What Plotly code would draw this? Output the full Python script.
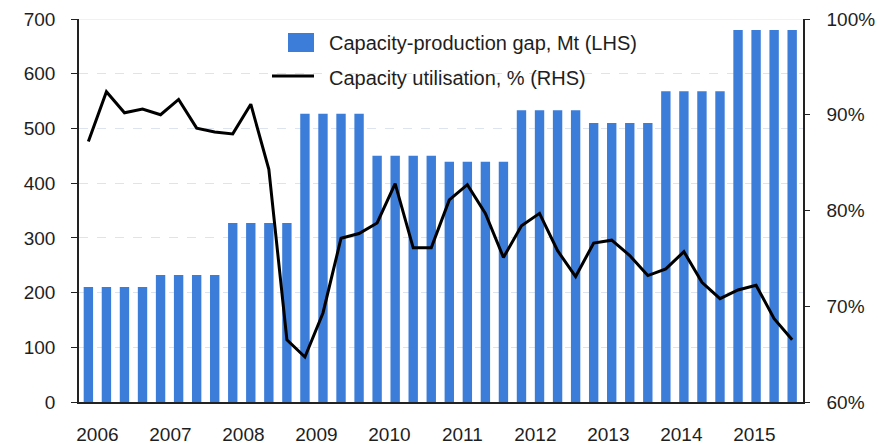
import plotly.graph_objects as go

# ---- data ----
years = ["2006", "2007", "2008", "2009", "2010", "2011", "2012", "2013", "2014", "2015"]
quarters = ["Q1", "Q2", "Q3", "Q4"]
gap_mt = [210, 210, 210, 210,
          232, 232, 232, 232,
          327, 327, 327, 327,
          527, 527, 527, 527,
          450, 450, 450, 450,
          439, 439, 439, 439,
          533, 533, 533, 533,
          510, 510, 510, 510,
          568, 568, 568, 568,
          680, 680, 680, 680]
utilisation = [87.2, 92.4, 90.2, 90.6,
               90.0, 91.6, 88.6, 88.2,
               88.0, 91.1, 84.3, 66.5,
               64.7, 69.3, 77.1, 77.6,
               78.7, 82.8, 76.1, 76.1,
               81.1, 82.7, 79.7, 75.1,
               78.4, 79.7, 75.8, 73.1,
               76.6, 76.9, 75.3, 73.2,
               73.9, 75.7, 72.5, 70.8,
               71.7, 72.2, 68.7, 66.5]
bar_name = "Capacity-production gap, Mt (LHS)"
line_name = "Capacity utilisation, % (RHS)"

BAR_COLOR = "#3c7dd9"
FONT = "Liberation Sans, Arial, sans-serif"
TXT = "#1e1e1e"

n = len(gap_mt)
x = list(range(n))
labels = [f"{y} {q}" for y in years for q in quarters]

W, H = 879, 445
L, R, T, B = 79, 803, 19, 402


def px(xp):
    return (xp - L) / (R - L)


def py(yp):
    return (B - yp) / (B - T)


fig = go.Figure()
fig.add_trace(go.Bar(x=x, y=gap_mt, name=bar_name, marker_color=BAR_COLOR,
                     marker_line_width=0, customdata=labels, showlegend=False,
                     hovertemplate="%{customdata}: %{y} Mt<extra></extra>"))
fig.add_trace(go.Scatter(x=x, y=utilisation, name=line_name, yaxis="y2", mode="lines",
                         line=dict(color="black", width=3), customdata=labels,
                         showlegend=False,
                         hovertemplate="%{customdata}: %{y}%<extra></extra>"))

tickvals = [4 * i + 0.5 + 0.045 * i for i in range(len(years))]

fig.update_layout(
    width=W, height=H,
    margin=dict(l=L, r=W - R, t=T, b=H - B, pad=0, autoexpand=False),
    paper_bgcolor="white", plot_bgcolor="white",
    font=dict(family=FONT, size=19, color=TXT),
    bargap=0.48,
    xaxis=dict(range=[-0.52, 39.6], tickvals=tickvals, ticktext=years,
               showgrid=False, zeroline=False, showline=True, linecolor="#222",
               linewidth=1.5, ticks="", ticklabelstandoff=14, automargin=False),
    yaxis=dict(range=[0, 700], dtick=100, showgrid=True, gridcolor="#dde3ef",
               griddash="dash", gridwidth=1, zeroline=False, showline=True,
               linecolor="#222", linewidth=1.5, ticks="outside", ticklen=6,
               tickcolor="#222", ticklabelstandoff=12, automargin=False),
    yaxis2=dict(range=[60, 100], dtick=10, ticksuffix="%", overlaying="y",
                side="right", showgrid=False, zeroline=False, showline=True,
                linecolor="#222", linewidth=1.5, ticks="outside", ticklen=5,
                tickcolor="#222", ticklabelstandoff=13, automargin=False),
    showlegend=False,
)

# solid top gridline
fig.add_shape(type="line", xref="paper", yref="y", x0=0, x1=1, y0=700, y1=700,
              line=dict(color="#dde3ef", width=1), layer="below")

# legend (drawn manually)
fig.add_shape(type="rect", xref="paper", yref="paper",
              x0=px(288), x1=px(314), y0=py(52), y1=py(33),
              fillcolor=BAR_COLOR, line_width=0)
fig.add_shape(type="line", xref="paper", yref="paper",
              x0=px(272), x1=px(314), y0=py(76), y1=py(76),
              line=dict(color="black", width=3))
fig.add_annotation(xref="paper", yref="paper", x=px(327), y=py(43), text=bar_name,
                   showarrow=False, xanchor="left", yanchor="middle",
                   font=dict(family=FONT, size=20, color=TXT))
fig.add_annotation(xref="paper", yref="paper", x=px(327), y=py(78), text=line_name,
                   showarrow=False, xanchor="left", yanchor="middle",
                   font=dict(family=FONT, size=20, color=TXT))

fig.write_html("out.html", config={"displayModeBar": False},
               post_script="document.body.style.margin='0';")
